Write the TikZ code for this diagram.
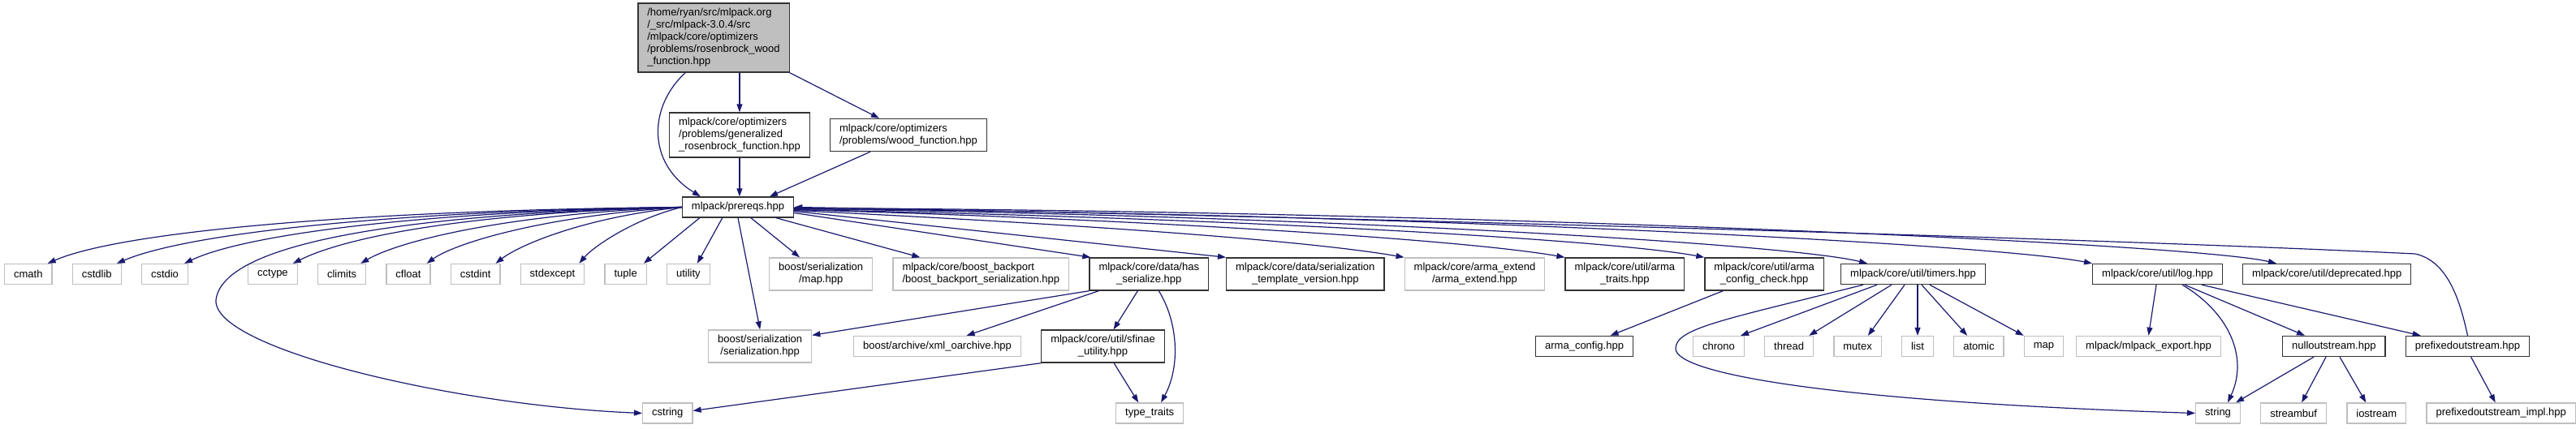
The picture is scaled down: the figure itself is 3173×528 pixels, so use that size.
\documentclass[tikz,border=0pt]{standalone}
\usepackage{fontspec}
\setmainfont{Liberation Sans}
\usetikzlibrary{
    arrows.meta,
    positioning,
}
\definecolor{edgeblue}{RGB}{25,25,112}

\begin{document}
\begin{tikzpicture}[
    x=1pt, y=-1pt,
    node distance=24pt,
    file/.style={draw, line width=1.3pt, rectangle, inner xsep=11.5pt, inner ysep=6.5pt, minimum height=25pt, align=center, font=\fontsize{13}{15}\selectfont},
    doc/.style={file, draw=black!80},
    undoc/.style={file, draw=black!25},
    current/.style={doc, fill=black!25},
    incl/.style={draw=edgeblue, line width=1.2pt, -{Triangle[length=10pt, width=7pt]}},
]
\useasboundingbox (0,0) rectangle (3173,528);

% top
\node[current, align=left] (root) at (879,46.5) {/home/ryan/src/mlpack.org\\/\_src/mlpack-3.0.4/src\\/mlpack/core/optimizers\\/problems/rosenbrock\_wood\\\_function.hpp};
\node[doc, align=left, anchor=west] (gen) at (824,166.5) {mlpack/core/optimizers\\/problems/generalized\\\_rosenbrock\_function.hpp};
\node[doc, align=left] (wood) [right=of gen] {mlpack/core/optimizers\\/problems/wood\_function.hpp};
\node[doc] (prereqs) at (909,255.5) {mlpack/prereqs.hpp};

% first row
\node[undoc, anchor=west] (cmath) at (5,338) {cmath};
\node[undoc] (cstdlib) [right=of cmath] {cstdlib};
\node[undoc] (cstdio) [right=of cstdlib] {cstdio};
\node[undoc, anchor=west] (cctype) at (305,338) {cctype};
\node[undoc] (climits) [right=of cctype] {climits};
\node[undoc] (cfloat) [right=of climits] {cfloat};
\node[undoc] (cstdint) [right=of cfloat] {cstdint};
\node[undoc] (stdexcept) [right=of cstdint] {stdexcept};
\node[undoc] (tuple) [right=of stdexcept] {tuple};
\node[undoc] (utility) [right=of tuple] {utility};
\node[undoc, anchor=west] (bmap) at (947,338) {boost/serialization\\/map.hpp};
\node[undoc, align=left] (backport) [right=of bmap] {mlpack/core/boost\_backport\\/boost\_backport\_serialization.hpp};
\node[doc] (has) [right=of backport] {mlpack/core/data/has\\\_serialize.hpp};
\node[doc, anchor=west] (tmpl) at (1510,338) {mlpack/core/data/serialization\\\_template\_version.hpp};
\node[undoc] (extend) [right=of tmpl] {mlpack/core/arma\_extend\\/arma\_extend.hpp};
\node[doc] (traits) [right=of extend] {mlpack/core/util/arma\\\_traits.hpp};
\node[doc] (cfgcheck) [right=of traits] {mlpack/core/util/arma\\\_config\_check.hpp};
\node[doc, anchor=west] (timers) at (2267,338) {mlpack/core/util/timers.hpp};
\node[doc, anchor=west] (log) at (2577,338) {mlpack/core/util/log.hpp};
\node[doc] (deprec) [right=of log] {mlpack/core/util/deprecated.hpp};

% second row
\node[undoc, anchor=west] (serial) at (872,427) {boost/serialization\\/serialization.hpp};
\node[undoc, anchor=west] (xml) at (1051,427) {boost/archive/xml\_oarchive.hpp};
\node[doc] (sfinae) [right=of xml] {mlpack/core/util/sfinae\\\_utility.hpp};
\node[doc, anchor=west] (armacfg) at (1891,427) {arma\_config.hpp};
\node[undoc, anchor=west] (chrono) at (2085,427) {chrono};
\node[undoc] (thread) [right=of chrono] {thread};
\node[undoc] (mutex) [right=of thread] {mutex};
\node[undoc] (list) [right=of mutex] {list};
\node[undoc] (atomic) [right=of list] {atomic};
\node[undoc] (tmap) [right=of atomic] {map};
\node[undoc, anchor=west] (export) at (2557,427) {mlpack/mlpack\_export.hpp};
\node[doc, anchor=west] (nullout) at (2811,427) {nulloutstream.hpp};
\node[doc] (prefixout) [right=of nullout] {prefixedoutstream.hpp};

% third row
\node[undoc, anchor=west] (cstring) at (791,509.5) {cstring};
\node[undoc, anchor=west] (ttraits) at (1374,509.5) {type\_traits};
\node[undoc, anchor=west] (string) at (2704,509.5) {string};
\node[undoc] (streambuf) [right=of string] {streambuf};
\node[undoc] (iostream) [right=of streambuf] {iostream};
\node[undoc] (impl) [right=of iostream] {prefixedoutstream\_impl.hpp};

% root and optimizers
\draw[incl] (root.south -| gen.north) -- (gen.north);
\draw[incl] (root.south east) -- ([xshift=-36pt]wood.north);
\draw[incl] ([xshift=59pt]root.south west) .. controls (800,130) and (795,200) .. ([xshift=23pt]prereqs.north west);
\draw[incl] (gen.south) -- (gen.south |- prereqs.north);
\draw[incl] ([xshift=50pt]wood.south west) -- ([xshift=39pt]prereqs.north);

% prereqs, left side
\draw[incl] (prereqs.west) .. controls (450,259) and (150,285) .. ([xshift=-6pt]cmath.north east);
\draw[incl] (prereqs.west) .. controls (480,260) and (230,288) .. ([xshift=-6pt]cstdlib.north east);
\draw[incl] (prereqs.west) .. controls (510,261) and (300,290) .. ([xshift=-5pt]cstdio.north east);
\draw[incl] (prereqs.west) .. controls (560,262) and (275,290) .. (266,370) .. controls (262,430) and (560,500) .. (cstring.west);
\draw[incl] (prereqs.west) .. controls (560,263) and (420,295) .. ([xshift=-6pt]cctype.north east);
\draw[incl] (prereqs.west) .. controls (620,264) and (490,298) .. ([xshift=-7pt]climits.north east);
\draw[incl] (prereqs.west) .. controls (670,266) and (560,300) .. ([xshift=-5pt]cfloat.north east);
\draw[incl] (prereqs.west) .. controls (720,268) and (640,302) .. ([xshift=-6pt]cstdint.north east);
\draw[incl] (prereqs.west) .. controls (780,270) and (730,305) .. ([xshift=-7pt]stdexcept.north east);
\draw[incl] ([xshift=22pt]prereqs.south west) -- ([xshift=-4pt]tuple.north east);
\draw[incl] ([xshift=50pt]prereqs.south west) -- ([xshift=-16pt]utility.north east);
\draw[incl] (prereqs.south) -- (serial.north);
\draw[incl] ([xshift=16pt]prereqs.south) -- ([xshift=38pt]bmap.north west);
\draw[incl] ([xshift=47pt]prereqs.south) -- ([xshift=34pt]backport.north west);

% prereqs, right side
\draw[incl] ([yshift=-7pt]prereqs.east) -- ([xshift=2pt]has.north west);
\draw[incl] ([yshift=-5pt]prereqs.east) -- (tmpl.north west);
\draw[incl] ([yshift=-4pt]prereqs.east) .. controls (1300,275) and (1600,295) .. (extend.north west);
\draw[incl] ([yshift=-3pt]prereqs.east) .. controls (1400,270) and (1800,295) .. (traits.north west);
\draw[incl] ([yshift=-3pt]prereqs.east) .. controls (1500,268) and (1980,295) .. (cfgcheck.north west);
\draw[incl] ([yshift=-2pt]prereqs.east) .. controls (1600,265) and (2200,300) .. ([xshift=33pt]timers.north west);
\draw[incl] ([yshift=-2pt]prereqs.east) .. controls (1700,262) and (2450,300) .. (log.north west);
\draw[incl] ([yshift=-1pt]prereqs.east) .. controls (1800,260) and (2700,300) .. ([xshift=42pt]deprec.north west);

% has_serialize and sfinae
\draw[incl] (has.south west) -- (serial.12);
\draw[incl] ([xshift=12pt]has.south west) -- ([xshift=36pt]xml.north);
\draw[incl] ([xshift=60pt]has.south west) -- ([xshift=13pt]sfinae.north);
\draw[incl] ([xshift=86pt]has.south west) .. controls (1450,395) and (1455,450) .. ([xshift=14pt]ttraits.north);
\draw[incl] (sfinae.south west) -- ([yshift=3pt]cstring.east);
\draw[incl] ([xshift=90pt]sfinae.south west) -- ([xshift=-14pt]ttraits.north);
\draw[incl] ([xshift=23pt]cfgcheck.south west) -- ([xshift=32pt]armacfg.north);

% timers
\draw[incl] ([xshift=28pt]timers.south west) .. controls (2120,395) and (2064,405) .. (2064,430) .. controls (2064,460) and (2250,495) .. (string.west);
\draw[incl] ([xshift=45pt]timers.south west) -- ([xshift=-5pt]chrono.north east);
\draw[incl] ([xshift=63pt]timers.south west) -- ([xshift=-6pt]thread.north east);
\draw[incl] ([xshift=79pt]timers.south west) -- ([xshift=-17pt]mutex.north east);
\draw[incl] (timers.south -| list.north) -- (list.north);
\draw[incl] ([xshift=100pt]timers.south west) -- ([xshift=17pt]atomic.north west);
\draw[incl] ([xshift=110pt]timers.south west) -- (tmap.north west);

% log
\draw[incl] ([xshift=79pt]log.south west) -- (export.north);
\draw[incl] ([xshift=111pt]log.south west) .. controls (2745,385) and (2770,440) .. ([xshift=12pt]string.north);
\draw[incl] ([xshift=114pt]log.south west) -- ([xshift=28pt]nullout.north west);
\draw[incl] ([xshift=135pt]log.south west) -- ([xshift=19pt]prefixout.north west);
\draw[incl] ([xshift=39pt]nullout.south west) -- ([xshift=-6pt]string.north east);
\draw[incl] ([xshift=54pt]nullout.south west) -- ([xshift=10pt]streambuf.north);
\draw[incl] ([xshift=71pt]nullout.south west) -- ([xshift=-13pt]iostream.north);
\draw[incl] ([xshift=81pt]prefixout.south west) -- ([xshift=-7pt]impl.north);
\draw[incl] (prefixout.north) .. controls (3030,370) and (3015,322) .. (2975,313) .. controls (2500,290) and (1400,262) .. (prereqs.east);

\end{tikzpicture}
\end{document}
